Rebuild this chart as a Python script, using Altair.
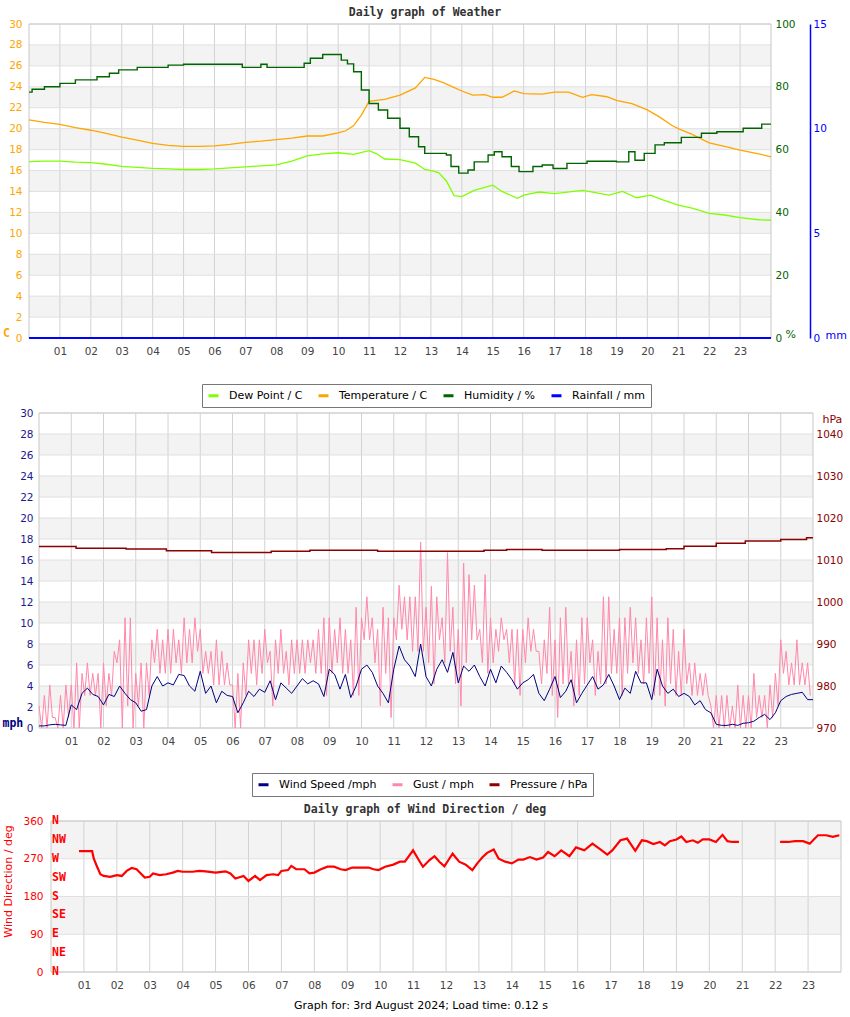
import altair as alt
import pandas as pd

# ---------------- data ----------------
HOUR_TICKS = list(range(1, 24))

# Weather panel
temp_h = [0, 0.5, 1, 1.5, 2, 2.5, 3, 3.5, 4, 4.5, 5, 5.5, 6, 6.5, 7, 7.5, 8, 8.5, 9, 9.5,
          10, 10.25, 10.5, 10.75, 11, 11.5, 12, 12.5, 12.8, 13.1, 13.4, 13.7, 14, 14.35, 14.75,
          15, 15.3, 15.7, 16, 16.6, 17, 17.45, 17.9, 18.2, 18.7, 19, 19.5, 20, 20.4, 20.8,
          21, 21.45, 22, 22.5, 23, 23.6, 24]
temp_v = [20.85, 20.6, 20.4, 20.1, 19.85, 19.55, 19.2, 18.9, 18.6, 18.4, 18.3, 18.3, 18.35, 18.5,
          18.7, 18.8, 18.95, 19.1, 19.3, 19.3, 19.6, 19.8, 20.3, 21.3, 22.6, 22.8, 23.2, 23.9, 24.9,
          24.7, 24.4, 24.0, 23.6, 23.2, 23.25, 23.0, 23.0, 23.6, 23.35, 23.3, 23.5, 23.5, 23.0,
          23.25, 23.05, 22.7, 22.4, 21.8, 21.1, 20.3, 20.0, 19.45, 18.65, 18.3, 17.95, 17.6, 17.3]

dew_h = [0, 0.5, 1, 1.5, 2, 2.5, 3, 3.5, 4, 4.5, 5, 5.5, 6, 6.5, 7, 7.5, 8, 8.5, 9, 9.5,
         10, 10.5, 11, 11.25, 11.5, 12, 12.5, 12.8, 13.0, 13.25, 13.5, 13.75, 14, 14.4, 15,
         15.3, 15.8, 16, 16.5, 17, 17.9, 18.1, 18.75, 19.2, 19.65, 20.1, 20.5, 21, 21.45, 22,
         22.5, 23, 23.6, 24]
dew_v = [16.85, 16.9, 16.9, 16.8, 16.75, 16.6, 16.4, 16.3, 16.2, 16.15, 16.1, 16.1, 16.15, 16.25,
         16.35, 16.45, 16.55, 16.9, 17.4, 17.6, 17.7, 17.55, 17.9, 17.6, 17.1, 17.05, 16.7, 16.1,
         16.0, 15.8, 15.0, 13.6, 13.5, 14.1, 14.6, 14.0, 13.35, 13.65, 13.95, 13.8, 14.1, 14.0,
         13.65, 14.0, 13.4, 13.65, 13.2, 12.7, 12.4, 11.9, 11.75, 11.5, 11.3, 11.25]

hum_h = [0, 0.1, 0.5, 1.0, 1.5, 2.2, 2.6, 2.9, 3.5, 4.5, 5.0, 6.9, 7.5, 7.7, 8.9, 9.1, 9.5, 10.1,
         10.3, 10.5, 10.75, 11, 11.3, 11.6, 12, 12.3, 12.6, 12.8, 13.1, 13.5, 13.65, 13.9, 14.2,
         14.4, 14.85, 15.05, 15.3, 15.6, 15.85, 16.3, 16.6, 16.95, 17.4, 18.05, 19.0, 19.4, 19.6,
         19.9, 20.25, 20.55, 21.1, 21.75, 22.25, 23.1, 23.7, 24]
hum_v = [78.3, 79.2, 80.0, 81.1, 82.2, 83.2, 84.3, 85.4, 86.2, 86.9, 87.2, 86.2, 87.2, 86.2, 87.5,
         89.1, 90.3, 88.5, 87.3, 84.8, 79.0, 74.7, 72.6, 70.0, 66.8, 64.1, 60.9, 58.8, 58.8, 58.3,
         54.6, 52.5, 53.5, 56.1, 58.3, 59.3, 57.7, 54.6, 53.0, 54.6, 55.1, 54.0, 55.6, 56.3, 56.1,
         59.3, 56.6, 58.8, 61.5, 62.2, 63.9, 65.2, 65.7, 66.8, 68.1, 68.1]

rain_h = [0, 24]
rain_v = [0, 0]

# Wind panel (10-minute wind speed, 10-minute gust high/low pairs)
speed_v = [
    0.2, 0.2, 0.3, 0.35, 0.3, 0.25,
    2.2, 1.75, 3.3, 3.8, 3.2, 3.0,
    2.2, 3.2, 3.0, 4.0, 3.3, 2.7,
    2.4, 1.6, 1.75, 4.0, 4.9, 4.0,
    4.3, 4.1, 5.1, 5.0, 4.0, 3.5,
    5.4, 3.3, 4.0, 2.4, 3.5, 3.1,
    3.0, 1.45, 2.4, 3.5, 3.0, 3.7,
    3.4, 4.5, 2.7, 4.3, 3.8, 3.3,
    4.0, 4.7, 4.2, 4.5, 4.2, 3.0,
    5.6, 5.1, 3.7, 5.1, 2.9, 4.0,
    5.6, 6.0, 5.3, 4.0, 3.3, 2.4,
    5.6, 7.8, 6.5, 5.9, 4.9, 8.0,
    4.9, 4.0, 5.6, 6.5, 5.3, 7.2,
    4.3, 5.9, 5.4, 6.0, 4.9, 4.0,
    5.6, 4.3, 5.9, 5.3, 4.6, 3.7,
    4.3, 4.6, 5.1, 3.3, 2.6, 3.7,
    4.9, 2.9, 3.5, 4.6, 2.4, 3.3,
    4.1, 4.9, 3.7, 4.1, 5.1, 4.0,
    2.7, 3.8, 3.3, 5.4, 4.3, 4.3,
    2.7, 5.6, 4.0, 3.3, 3.7, 3.0,
    3.3, 3.0, 2.2, 2.6, 1.75, 1.45,
    0.35, 0.25, 0.25, 0.35, 0.25, 0.45,
    0.5, 0.65, 1.0, 1.3, 0.8, 1.45,
    2.6, 3.0, 3.2, 3.3, 3.4, 2.7,
    2.7]

gust_hi = [
    2.1, 3.1, 4.1, 1.0, 3.1, 4.1,
    4.1, 6.2, 5.2, 6.2, 5.2, 5.2,
    6.2, 5.2, 7.3, 8.4, 10.5, 10.5,
    5.2, 6.2, 6.2, 8.4, 9.4, 8.4,
    9.4, 9.4, 8.4, 10.5, 9.4, 10.5,
    9.4, 7.3, 7.3, 8.4, 7.3, 6.2,
    4.1, 5.2, 6.2, 8.4, 8.4, 8.4,
    9.4, 7.3, 8.4, 9.4, 7.3, 8.4,
    8.4, 8.4, 8.4, 8.4, 9.4, 10.5,
    10.5, 9.4, 10.5, 9.4, 8.4, 11.5,
    10.5, 12.5, 10.5, 9.4, 11.5, 10.5,
    10.5, 13.6, 12.5, 12.5, 12.5, 17.7,
    11.5, 13.5, 12.5, 10.5, 16.7, 11.5,
    9.4, 15.7, 14.6, 13.6, 9.4, 14.6,
    10.5, 9.4, 10.5, 9.4, 9.4, 9.4,
    9.4, 10.5, 9.4, 7.3, 8.4, 11.5,
    8.4, 10.5, 11.5, 7.3, 8.4, 10.5,
    10.5, 8.4, 7.3, 12.5, 12.5, 9.4,
    10.5, 10.5, 11.5, 10.5, 8.4, 10.5,
    12.5, 10.5, 8.4, 10.5, 9.4, 7.3,
    9.4, 6.2, 6.2, 5.2, 5.2, 2.1,
    3.1, 3.1, 3.1, 2.1, 4.1, 3.1,
    3.1, 5.2, 3.1, 3.1, 4.1, 5.2,
    8.4, 7.3, 6.2, 8.4, 6.2, 6.2]
gust_lo = [
    0, 0, 1.0, 0, 0, 1.0,
    0, 0, 3.1, 3.1, 3.1, 0,
    2.1, 3.1, 6.2, 0, 2.1, 0,
    2.1, 0, 3.1, 6.2, 5.2, 5.2,
    5.2, 6.2, 5.2, 6.2, 6.2, 7.3,
    5.2, 5.2, 4.1, 4.1, 4.1, 4.1,
    0, 0, 3.1, 5.2, 4.1, 5.2,
    6.2, 2.1, 5.2, 5.2, 4.1, 5.2,
    5.2, 5.2, 6.2, 5.2, 5.2, 3.1,
    5.2, 6.2, 5.2, 5.2, 3.1, 3.1,
    8.4, 8.4, 6.2, 2.1, 5.2, 1.0,
    8.4, 9.4, 8.4, 7.3, 7.3, 7.3,
    6.2, 4.2, 8.4, 6.2, 7.3, 4.2,
    2.1, 6.2, 8.4, 8.4, 6.2, 5.2,
    6.2, 7.3, 8.4, 6.2, 4.1, 3.1,
    6.2, 7.3, 7.3, 4.2, 5.2, 3.1,
    1.0, 4.2, 4.2, 2.1, 3.1, 4.2,
    6.2, 3.1, 4.2, 4.2, 5.2, 5.2,
    3.1, 5.2, 6.2, 5.2, 4.2, 5.2,
    3.1, 3.1, 2.1, 4.2, 3.1, 3.1,
    4.2, 3.1, 3.1, 3.1, 3.1, 0,
    0, 0, 0, 0, 0, 0,
    0, 1.0, 1.0, 0, 1.0, 2.1,
    5.2, 4.1, 4.1, 4.1, 4.1, 3.1]

pres_h = [0, 1.15, 2.7, 3.95, 5.35, 7.2, 8.4, 10.5, 13.8, 14.5, 15.6, 18.0, 19.45, 20.0, 21.0,
          21.9, 23.0, 23.8, 24]
pres_v = [1013.2, 1012.8, 1012.6, 1012.2, 1011.8, 1012.1, 1012.3, 1012.1, 1012.3, 1012.5, 1012.3,
          1012.5, 1012.7, 1013.3, 1014.0, 1014.5, 1014.9, 1015.3, 1015.3]

# Wind direction panel (two recorded stretches)
dir_h_a = [0.85, 1.25, 1.3, 1.4, 1.5, 1.6, 1.8, 2.0, 2.15, 2.3,
           2.45, 2.6, 2.75, 2.85, 3.0, 3.1, 3.3, 3.5, 3.7, 3.85,
           4.0, 4.3, 4.5, 4.7, 5.0, 5.3, 5.45, 5.6, 5.85, 6.0,
           6.2, 6.35, 6.55, 6.75, 6.9, 7.0, 7.2, 7.3, 7.45, 7.7,
           7.85, 8.0, 8.2, 8.4, 8.6, 8.8, 8.95, 9.15, 9.5, 9.65,
           9.8, 9.95, 10.15, 10.4, 10.6, 10.75, 10.85, 11.0, 11.15, 11.3,
           11.5, 11.65, 11.8, 11.95, 12.1, 12.2, 12.4, 12.6, 12.8, 12.95,
           13.1, 13.25, 13.45, 13.6, 13.8, 14.0, 14.2, 14.35, 14.55, 14.75,
           14.95, 15.1, 15.3, 15.5, 15.75, 15.95, 16.2, 16.45, 16.7, 16.9,
           17.05, 17.3, 17.5, 17.75, 17.95, 18.1, 18.3, 18.5, 18.65, 18.8,
           19.0, 19.15, 19.3, 19.5, 19.65, 19.8, 20.0, 20.2, 20.4, 20.55,
           20.7, 20.9]
dir_v_a = [288, 288, 270, 251, 233, 229, 227, 231, 229, 241,
           248, 245, 233, 225, 227, 235, 231, 233, 237, 241,
           239, 239, 241, 240, 237, 240, 235, 223, 229, 217,
           229, 219, 231, 233, 231, 241, 243, 253, 245, 245,
           235, 237, 245, 251, 251, 245, 243, 249, 249, 249,
           245, 243, 251, 256, 263, 263, 274, 290, 270, 251,
           267, 276, 263, 252, 270, 282, 263, 256, 243, 259,
           273, 284, 292, 270, 263, 259, 268, 268, 274, 268,
           273, 286, 276, 290, 276, 297, 290, 306, 292, 280,
           290, 314, 318, 289, 314, 312, 305, 310, 302, 312,
           316, 323, 310, 314, 308, 316, 316, 310, 327, 312,
           310, 310]
dir_h_b = [22.15, 22.4, 22.6, 22.85, 23.05, 23.3, 23.55, 23.75, 23.95]
dir_v_b = [310, 310, 312, 312, 306, 326, 326, 322, 326]

compass_deg = [0, 45, 90, 135, 180, 225, 270, 315, 360]
compass_lab = ["N", "NE", "E", "SE", "S", "SW", "W", "NW", "N"]

band_lo_1 = [2, 6, 10, 14, 18, 22, 26]
band_hi_1 = [4, 8, 12, 16, 20, 24, 28]
band_lo_3 = [90, 270]
band_hi_3 = [180, 360]

TEMP_TICKS = list(range(0, 31, 2))
HUM_TICKS = [0, 20, 40, 60, 80, 100]
RAIN_TICKS = [0, 5, 10, 15]
MPH_TICKS = list(range(0, 31, 2))
HPA_TICKS = [970, 980, 990, 1000, 1010, 1020, 1030, 1040]
DIR_TICKS = [0, 90, 180, 270, 360]

SERIES_1 = ["Dew Point / C", "Temperature / C", "Humidity / %", "Rainfall / mm"]
COLORS_1 = ["#7fff00", "#ffa500", "#006400", "#0000ff"]
SERIES_2 = ["Wind Speed /mph", "Gust / mph", "Pressure / hPa"]
COLORS_2 = ["#000080", "#ff88aa", "#8b0000"]

TITLE_1 = "Daily graph of Weather"
TITLE_3 = "Daily graph of Wind Direction / deg"
FOOTER = "Graph for: 3rd August 2024; Load time: 0.12 s"

# ---------------- layout (pixels) ----------------
VW = 850
P1 = dict(h=407, left=29, right=771, top=24, bottom=338)
P2 = dict(h=394, left=39, right=813, top=6, bottom=321)
P3 = dict(h=216, left=51, right=841, top=20, bottom=171)

FONT = "DejaVu Sans"
MONO = "DejaVu Sans Mono"
GRID_X = "#d2d2d2"
GRID_Y = "#e0e0e0"
BAND = "#f3f3f3"
HOUR_EXPR = "datum.value < 10 ? '0' + datum.value : '' + datum.value"


# ---------------- tables ----------------
def series_df(hours, values, name):
    return pd.DataFrame({"h": hours, "v": values, "s": name})


df_temp = series_df(temp_h, temp_v, SERIES_1[1])
df_dew = series_df(dew_h, dew_v, SERIES_1[0])
df_hum = series_df(hum_h, hum_v, SERIES_1[2])
df_rain = series_df(rain_h, rain_v, SERIES_1[3])

df_speed = series_df([i / 6 for i in range(len(speed_v))], speed_v, SERIES_2[0])
g_h, g_v = [], []
for k, (hi, lo) in enumerate(zip(gust_hi, gust_lo)):
    g_h += [k / 6, k / 6 + 1 / 12]
    g_v += [hi, lo]
df_gust = series_df(g_h, g_v, SERIES_2[1])
df_pres = series_df(pres_h, pres_v, SERIES_2[2])

df_dir = pd.concat([
    pd.DataFrame({"h": dir_h_a, "v": dir_v_a, "seg": "a"}),
    pd.DataFrame({"h": dir_h_b, "v": dir_v_b, "seg": "b"}),
])
df_compass = pd.DataFrame({"v": compass_deg, "lab": compass_lab})


# ---------------- helpers ----------------
def x_axis(p):
    return alt.Axis(orient="bottom", offset=-(p["h"] - p["bottom"]), values=HOUR_TICKS,
                    labelExpr=HOUR_EXPR, grid=False, ticks=False, domain=False,
                    labelColor="#444444", labelFont=FONT, labelFontSize=10.5, labelPadding=8,
                    labelOverlap=False, labelFlush=False, title=None)


def background(p, X, ylo, yhi, Y, band_lo, band_hi, yticks):
    """bands, grid lines and plot frame, all drawn through the panel scales"""
    df_b = pd.DataFrame({"lo": band_lo, "hi": band_hi, "a": 0, "b": 24})
    df_vg = pd.DataFrame({"h": HOUR_TICKS, "lo": ylo, "hi": yhi})
    df_hg = pd.DataFrame({"v": yticks, "a": 0, "b": 24})
    df_fr = pd.DataFrame({"a": [0], "b": [24], "lo": [ylo], "hi": [yhi]})
    bands = alt.Chart(df_b).mark_rect(color=BAND).encode(
        x=X("a"), x2="b:Q", y=Y("lo"), y2="hi:Q")
    vgrid = alt.Chart(df_vg).mark_rule(color=GRID_X, strokeWidth=1).encode(
        x=X("h"), y=Y("lo"), y2="hi:Q")
    hgrid = alt.Chart(df_hg).mark_rule(color=GRID_Y, strokeWidth=1).encode(
        x=X("a"), x2="b:Q", y=Y("v"))
    border = alt.Chart(df_fr).mark_rect(fill="#ffffff", fillOpacity=0, stroke="#c8c8c8",
                                        strokeWidth=1).encode(
        x=X("a"), x2="b:Q", y=Y("lo"), y2="hi:Q")
    return [bands, vgrid, hgrid, border]


def legend(x, y, n):
    return alt.Legend(orient="none", legendX=x, legendY=y, direction="horizontal", columns=n,
                      title=None, symbolType="stroke", symbolStrokeWidth=3, symbolSize=100,
                      labelFont=FONT, labelFontSize=11, labelColor="#000000", labelOffset=9,
                      columnPadding=9, padding=5, strokeColor="#777777", fillColor="#ffffff")


def text_note(txt, x, y, **style):
    return alt.Chart(pd.DataFrame({"t": [txt]})).mark_text(
        align="center", baseline="middle", **style).encode(
        x=alt.value(x), y=alt.value(y), text="t:N")


def make_x(p):
    sc = alt.Scale(domain=[0, 24], range=[p["left"], p["right"]], nice=False, zero=False)
    ax = x_axis(p)
    return lambda f: alt.X(f"{f}:Q", scale=sc, axis=ax)


def make_y(p, domain, axis):
    sc = alt.Scale(domain=domain, range=[p["bottom"], p["top"]], nice=False, zero=False)
    return lambda f: alt.Y(f"{f}:Q", scale=sc, axis=axis)


# ---------------- panel 1: weather ----------------
X1 = make_x(P1)
AX_T = alt.Axis(orient="left", offset=-P1["left"], values=TEMP_TICKS, grid=False, ticks=False,
                domain=False, labelColor="#ffa500", labelFont=FONT, labelFontSize=10.5,
                labelPadding=7, title="C", titleAngle=0, titleX=-26.5, titleY=333,
                titleAlign="left", titleBaseline="middle", titleColor="#ffa500",
                titleFont=MONO, titleFontSize=11.5, titleFontWeight="bold")
AX_H = alt.Axis(orient="right", offset=-(VW - P1["right"]), values=HUM_TICKS, grid=False,
                ticks=False, domain=False, labelColor="#006400", labelFont=FONT,
                labelFontSize=10.5, labelPadding=4, title="%", titleAngle=0, titleX=14,
                titleY=334, titleAlign="left", titleBaseline="middle", titleColor="#006400",
                titleFont=FONT, titleFontSize=11, titleFontWeight="normal")
AX_R = alt.Axis(orient="right", offset=-(VW - 810), values=RAIN_TICKS, grid=False, ticks=False,
                domain=True, domainColor="#0000ff", domainWidth=1.5, labelColor="#0000ff",
                labelFont=FONT, labelFontSize=10.5, labelPadding=3, title="mm", titleAngle=0,
                titleX=15, titleY=335, titleAlign="left", titleBaseline="middle",
                titleColor="#0000ff", titleFont=FONT, titleFontSize=11, titleFontWeight="normal")
Y_T = make_y(P1, [0, 30], AX_T)
Y_H = make_y(P1, [0, 100], AX_H)
Y_R = make_y(P1, [0, 15], AX_R)
C1 = alt.Color("s:N", scale=alt.Scale(domain=SERIES_1, range=COLORS_1),
               legend=legend(202, 384, 4))

temp_line = alt.Chart(df_temp).mark_line(strokeWidth=1.3).encode(x=X1("h"), y=Y_T("v"), color=C1)
dew_line = alt.Chart(df_dew).mark_line(strokeWidth=1.3).encode(x=X1("h"), y=Y_T("v"), color=C1)
hum_line = alt.Chart(df_hum).mark_line(strokeWidth=1.4, interpolate="step-after").encode(
    x=X1("h"), y=Y_H("v"), color=C1)
rain_line = alt.Chart(df_rain).mark_line(strokeWidth=2).encode(x=X1("h"), y=Y_R("v"), color=C1)

panel1 = alt.layer(
    alt.layer(*background(P1, X1, 0, 30, Y_T, band_lo_1, band_hi_1, TEMP_TICKS),
              temp_line, dew_line),
    hum_line, rain_line,
    text_note(TITLE_1, 425, 13, font=MONO, fontSize=11.5, fontWeight="bold", color="#333333"),
).resolve_scale(y="independent").properties(width=VW, height=P1["h"])

# ---------------- panel 2: wind ----------------
X2 = make_x(P2)
AX_M = alt.Axis(orient="left", offset=-P2["left"], values=MPH_TICKS, grid=False, ticks=False,
                domain=False, labelColor="#1a1a8c", labelFont=FONT, labelFontSize=10.5,
                labelPadding=6, title="mph", titleAngle=0, titleX=-37, titleY=316,
                titleAlign="left", titleBaseline="middle", titleColor="#000080",
                titleFont=MONO, titleFontSize=11.5, titleFontWeight="bold")
AX_P = alt.Axis(orient="right", offset=-(VW - P2["right"]), values=HPA_TICKS, format="d",
                grid=False, ticks=False, domain=False, labelColor="#8b0000", labelFont=FONT,
                labelFontSize=10.5, labelPadding=3, title="hPa", titleAngle=0, titleX=9,
                titleY=12, titleAlign="left", titleBaseline="middle", titleColor="#8b0000",
                titleFont=FONT, titleFontSize=11, titleFontWeight="normal")
Y_M = make_y(P2, [0, 30], AX_M)
Y_P = make_y(P2, [970, 1045], AX_P)
C2 = alt.Color("s:N", scale=alt.Scale(domain=SERIES_2, range=COLORS_2),
               legend=legend(252, 366, 3))

gust_line = alt.Chart(df_gust).mark_line(strokeWidth=1).encode(x=X2("h"), y=Y_M("v"), color=C2)
speed_line = alt.Chart(df_speed).mark_line(strokeWidth=1).encode(x=X2("h"), y=Y_M("v"), color=C2)
pres_line = alt.Chart(df_pres).mark_line(strokeWidth=1.5, interpolate="step-after").encode(
    x=X2("h"), y=Y_P("v"), color=C2)

panel2 = alt.layer(
    alt.layer(*background(P2, X2, 0, 30, Y_M, band_lo_1, band_hi_1, MPH_TICKS),
              gust_line, speed_line),
    pres_line,
).resolve_scale(y="independent").properties(width=VW, height=P2["h"])

# ---------------- panel 3: wind direction ----------------
X3 = make_x(P3)
AX_D = alt.Axis(orient="left", offset=-P3["left"], values=DIR_TICKS, grid=False, ticks=False,
                domain=False, labelColor="#ff0000", labelFont=FONT, labelFontSize=10.5,
                labelPadding=8, title="Wind Direction / deg", titleAngle=270, titleX=-43,
                titleY=80, titleAlign="center", titleBaseline="middle", titleColor="#ff0000",
                titleFont=FONT, titleFontSize=11, titleFontWeight="normal")
Y_D = make_y(P3, [0, 360], AX_D)

dir_line = alt.Chart(df_dir).mark_line(color="#ff0000", strokeWidth=2.2).encode(
    x=X3("h"), y=Y_D("v"), detail="seg:N")
compass = alt.Chart(df_compass).mark_text(
    align="left", baseline="middle", font=MONO, fontSize=11.5, fontWeight="bold", color="#ff0000"
).encode(x=alt.value(P3["left"] + 1), y=Y_D("v"), text="lab:N")

panel3 = alt.layer(
    *background(P3, X3, 0, 360, Y_D, band_lo_3, band_hi_3, DIR_TICKS),
    dir_line, compass,
    text_note(TITLE_3, 425, 9, font=MONO, fontSize=11.5, fontWeight="bold", color="#333333"),
    text_note(FOOTER, 421, 205, font=FONT, fontSize=11, color="#000000"),
).properties(width=VW, height=P3["h"])

chart = alt.vconcat(panel1, panel2, panel3, spacing=0, bounds="flush"
                    ).resolve_scale(color="independent", x="independent", y="independent"
                    ).resolve_legend(color="independent"
                    ).properties(padding=0
                    ).configure(background="#ffffff"
                    ).configure_view(strokeWidth=0)

chart.save("out.html", embed_options={"renderer": "svg", "actions": False})
